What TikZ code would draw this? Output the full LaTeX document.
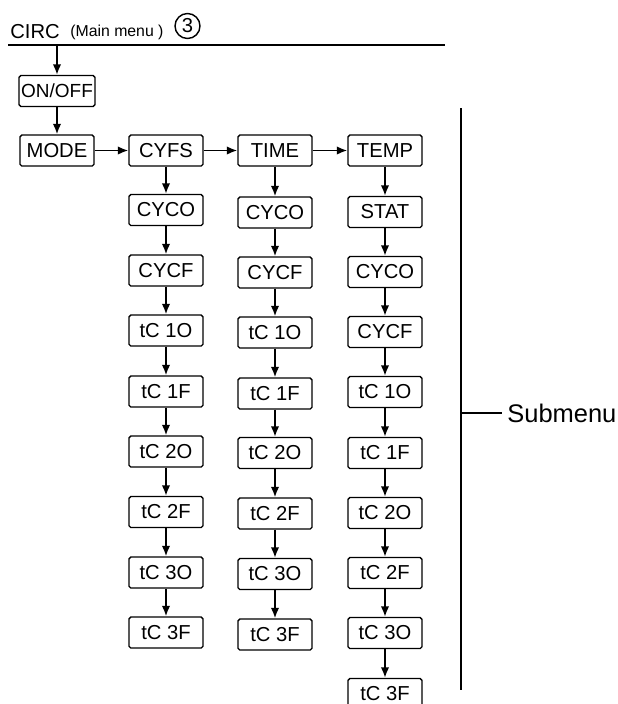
\documentclass[tikz,border=0pt]{standalone}
\usepackage{fontspec}
\setmainfont{Liberation Sans}
\usetikzlibrary{arrows.meta}

\begin{document}
\begin{tikzpicture}[
    menu_box/.style = {draw=black, line width=0.8pt, rounded corners=1pt,
                       minimum width=1.48cm, minimum height=0.62cm,
                       inner sep=0pt, font=\fontsize{11.5}{13}\selectfont},
    menu_arrow/.style = {line width=1pt, -{Latex[length=2.1mm,width=1.7mm]}}
  ]

    \useasboundingbox (0,0) rectangle (12.34,-14.08);

    % Heading of the main menu with its number in a circle
    \node[anchor=base west, inner sep=0pt,
          font=\fontsize{11.5}{13}\selectfont] (Circ_title) at (0.20,-0.76) {CIRC};
    \node[anchor=base west, inner sep=0pt,
          font=\fontsize{9}{11}\selectfont] (Main_menu) at (1.40,-0.72) {(Main menu )};
    \node[circle, draw=black, line width=0.8pt, minimum size=0.5cm, inner sep=0pt,
          font=\fontsize{11.5}{13}\selectfont] (Circ_num) at (3.75,-0.52) {3};

    \coordinate (Line_start) at (0.16,-0.90);
    \coordinate (Line_end) at (8.90,-0.90);
    \draw[line width=0.9pt] (Line_start) -- (Line_end);

    % Main branch
    \node[menu_box, inner xsep=1.2pt,
          font=\fontsize{10.8}{13}\selectfont] (Onoff_box) at (1.14,-1.82) {ON/OFF};
    \node[menu_box] (Mode_box)  at (1.14,-3.01) {MODE};
    \node[menu_box] (Cyfs_box)  at (3.32,-3.01) {CYFS};
    \node[menu_box] (Time_box)  at (5.50,-3.01) {TIME};
    \node[menu_box] (Temp_box)  at (7.70,-3.01) {TEMP};

    \coordinate (Line_tap) at (Onoff_box.north |- Line_start);
    \draw[menu_arrow] (Line_tap) -- (Onoff_box);
    \draw[menu_arrow] (Onoff_box) -- (Mode_box);
    \draw[menu_arrow] (Mode_box) -- (Cyfs_box);
    \draw[menu_arrow] (Cyfs_box) -- (Time_box);
    \draw[menu_arrow] (Time_box) -- (Temp_box);

    % CYFS column
    \node[menu_box] (Cyfs_CYCO) at (3.32,-4.20)  {CYCO};
    \node[menu_box] (Cyfs_CYCF) at (3.32,-5.41)  {CYCF};
    \node[menu_box] (Cyfs_tC1O) at (3.32,-6.61)  {tC 1O};
    \node[menu_box] (Cyfs_tC1F) at (3.32,-7.83)  {tC 1F};
    \node[menu_box] (Cyfs_tC2O) at (3.32,-9.03)  {tC 2O};
    \node[menu_box] (Cyfs_tC2F) at (3.32,-10.24) {tC 2F};
    \node[menu_box] (Cyfs_tC3O) at (3.32,-11.45) {tC 3O};
    \node[menu_box] (Cyfs_tC3F) at (3.32,-12.65) {tC 3F};

    \draw[menu_arrow] (Cyfs_box)  -- (Cyfs_CYCO);
    \draw[menu_arrow] (Cyfs_CYCO) -- (Cyfs_CYCF);
    \draw[menu_arrow] (Cyfs_CYCF) -- (Cyfs_tC1O);
    \draw[menu_arrow] (Cyfs_tC1O) -- (Cyfs_tC1F);
    \draw[menu_arrow] (Cyfs_tC1F) -- (Cyfs_tC2O);
    \draw[menu_arrow] (Cyfs_tC2O) -- (Cyfs_tC2F);
    \draw[menu_arrow] (Cyfs_tC2F) -- (Cyfs_tC3O);
    \draw[menu_arrow] (Cyfs_tC3O) -- (Cyfs_tC3F);

    % TIME column
    \node[menu_box] (Time_CYCO) at (5.50,-4.25)  {CYCO};
    \node[menu_box] (Time_CYCF) at (5.50,-5.45)  {CYCF};
    \node[menu_box] (Time_tC1O) at (5.50,-6.65)  {tC 1O};
    \node[menu_box] (Time_tC1F) at (5.50,-7.87)  {tC 1F};
    \node[menu_box] (Time_tC2O) at (5.50,-9.06)  {tC 2O};
    \node[menu_box] (Time_tC2F) at (5.50,-10.27) {tC 2F};
    \node[menu_box] (Time_tC3O) at (5.50,-11.48) {tC 3O};
    \node[menu_box] (Time_tC3F) at (5.50,-12.69) {tC 3F};

    \draw[menu_arrow] (Time_box)  -- (Time_CYCO);
    \draw[menu_arrow] (Time_CYCO) -- (Time_CYCF);
    \draw[menu_arrow] (Time_CYCF) -- (Time_tC1O);
    \draw[menu_arrow] (Time_tC1O) -- (Time_tC1F);
    \draw[menu_arrow] (Time_tC1F) -- (Time_tC2O);
    \draw[menu_arrow] (Time_tC2O) -- (Time_tC2F);
    \draw[menu_arrow] (Time_tC2F) -- (Time_tC3O);
    \draw[menu_arrow] (Time_tC3O) -- (Time_tC3F);

    % TEMP column, one box more (STAT)
    \node[menu_box] (Temp_STAT) at (7.70,-4.24)  {STAT};
    \node[menu_box] (Temp_CYCO) at (7.70,-5.44)  {CYCO};
    \node[menu_box] (Temp_CYCF) at (7.70,-6.64)  {CYCF};
    \node[menu_box] (Temp_tC1O) at (7.70,-7.84)  {tC 1O};
    \node[menu_box] (Temp_tC1F) at (7.70,-9.06)  {tC 1F};
    \node[menu_box] (Temp_tC2O) at (7.70,-10.26) {tC 2O};
    \node[menu_box] (Temp_tC2F) at (7.70,-11.46) {tC 2F};
    \node[menu_box] (Temp_tC3O) at (7.70,-12.66) {tC 3O};
    \node[menu_box] (Temp_tC3F) at (7.70,-13.88) {tC 3F};

    \draw[menu_arrow] (Temp_box)  -- (Temp_STAT);
    \draw[menu_arrow] (Temp_STAT) -- (Temp_CYCO);
    \draw[menu_arrow] (Temp_CYCO) -- (Temp_CYCF);
    \draw[menu_arrow] (Temp_CYCF) -- (Temp_tC1O);
    \draw[menu_arrow] (Temp_tC1O) -- (Temp_tC1F);
    \draw[menu_arrow] (Temp_tC1F) -- (Temp_tC2O);
    \draw[menu_arrow] (Temp_tC2O) -- (Temp_tC2F);
    \draw[menu_arrow] (Temp_tC2F) -- (Temp_tC3O);
    \draw[menu_arrow] (Temp_tC3O) -- (Temp_tC3F);

    % Bracket for the submenus
    \coordinate (Bracket_top) at (9.22,-2.16);
    \coordinate (Bracket_bottom) at (9.22,-13.80);
    \coordinate (Bracket_tap) at (9.22,-8.26);
    \node[anchor=west, inner sep=0pt,
          font=\fontsize{14.5}{16}\selectfont] (Submenu_label) at (10.14,-8.26) {Submenu};

    \draw[line width=0.85pt] (Bracket_top) -- (Bracket_bottom);
    \draw[line width=0.85pt] (Bracket_tap) -- ([xshift=-1mm]Submenu_label.west);

\end{tikzpicture}
\end{document}
